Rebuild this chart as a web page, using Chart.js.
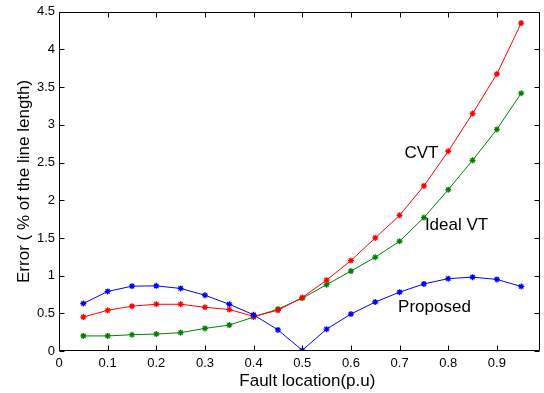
<!DOCTYPE html>
<html>
<head>
<meta charset="utf-8">
<script src="https://cdn.jsdelivr.net/npm/chart.js@4/dist/chart.umd.min.js"></script>
<style>
html,body{margin:0;padding:0;background:#fff;}
#c{display:block;}
</style>
</head>
<body>
<canvas id="c" width="544" height="393"></canvas>
<script>
const faultLocation = [0.05,0.10,0.15,0.20,0.25,0.30,0.35,0.40,0.45,0.50,0.55,0.60,0.65,0.70,0.75,0.80,0.85,0.90,0.95];
const cvtError      = [0.45,0.54,0.595,0.62,0.62,0.58,0.55,0.46,0.54,0.71,0.94,1.20,1.50,1.80,2.19,2.65,3.15,3.675,4.35];
const idealVtError  = [0.20,0.20,0.216,0.225,0.243,0.30,0.344,0.45,0.556,0.70,0.88,1.06,1.244,1.456,1.77,2.14,2.53,2.94,3.42];
const proposedError = [0.63,0.79,0.86,0.864,0.83,0.74,0.62,0.48,0.28,0.01,0.29,0.49,0.65,0.78,0.89,0.96,0.98,0.95,0.856];
const xTickValues = [0,0.1,0.2,0.3,0.4,0.5,0.6,0.7,0.8,0.9];
const yTickValues = [0,0.5,1,1.5,2,2.5,3,3.5,4,4.5];
const seriesNames = ['Proposed','CVT','Ideal VT'];
const labelTexts = ['CVT','Ideal VT','Proposed'];
const labelX = [0.71,0.752,0.697];
const labelY = [2.62,1.667,0.586];
const xTitle = 'Fault location(p.u)';
const yTitle = 'Error ( % of the line length)';

const FONT = "'Liberation Sans', Arial, sans-serif";

function pts(ys){ return faultLocation.map((x,i)=>({x:x,y:ys[i]})); }

const frame = {
  id:'frame',
  afterDraw(chart){
    const {ctx, chartArea:a, scales:{x,y}} = chart;
    ctx.save();
    ctx.strokeStyle='#000';
    ctx.lineWidth=1;
    const L=Math.round(a.left)+0.5, R=Math.round(a.right)-0.5, T=Math.round(a.top)+0.5, B=Math.round(a.bottom)-0.5;
    ctx.beginPath();
    ctx.rect(L,T,R-L,B-T);
    const tl=5;
    xTickValues.forEach(v=>{
      const px=Math.round(x.getPixelForValue(v))+0.5;
      ctx.moveTo(px,B); ctx.lineTo(px,B-tl);
      ctx.moveTo(px,T); ctx.lineTo(px,T+tl);
    });
    yTickValues.forEach(v=>{
      const py=Math.round(y.getPixelForValue(v))+0.5;
      ctx.moveTo(L,py); ctx.lineTo(L+tl,py);
      ctx.moveTo(R,py); ctx.lineTo(R-tl,py);
    });
    ctx.stroke();
    ctx.fillStyle='#000';
    ctx.font='17px '+FONT;
    ctx.textAlign='left';
    ctx.textBaseline='middle';
    labelTexts.forEach((t,i)=>{
      ctx.fillText(t, x.getPixelForValue(labelX[i]), y.getPixelForValue(labelY[i]));
    });
    // x-axis title, centred slightly right of the axis midpoint as in the reference
    ctx.textAlign='center';
    ctx.fillText(xTitle, (a.left+a.right)/2 + 8, a.bottom + 30);
    ctx.restore();
  }
};

new Chart(document.getElementById('c'), {
  type:'line',
  data:{
    datasets:[
      {label:seriesNames[0], data:pts(proposedError), borderColor:'#0000ff', backgroundColor:'#0000ff'},
      {label:seriesNames[1], data:pts(cvtError), borderColor:'#ff0000', backgroundColor:'#ff0000'},
      {label:seriesNames[2], data:pts(idealVtError), borderColor:'#008000', backgroundColor:'#008000'}
    ]
  },
  options:{
    responsive:false,
    animation:false,
    devicePixelRatio:1,
    layout:{padding:{top:11,right:2,left:0,bottom:0}},
    elements:{
      line:{borderWidth:1,tension:0,fill:false},
      point:{pointStyle:'star',radius:3,borderWidth:1.3,hoverRadius:3}
    },
    plugins:{legend:{display:false},tooltip:{enabled:false}},
    scales:{
      x:{
        type:'linear', min:0, max:0.988,
        afterBuildTicks(s){ s.ticks = xTickValues.map(v=>({value:v})); },
        afterFit(s){ s.height = 42; },
        grid:{display:false, drawTicks:false},
        border:{display:false},
        ticks:{color:'#000', padding:5, maxRotation:0, autoSkip:false, font:{family:FONT,size:13}, callback:v=>String(v)},
        title:{display:false}
      },
      y:{
        type:'linear', min:0, max:4.5,
        afterBuildTicks(s){ s.ticks = yTickValues.map(v=>({value:v})); },
        afterFit(s){ s.width = 59; },
        grid:{display:false, drawTicks:false},
        border:{display:false},
        ticks:{color:'#000', padding:4, autoSkip:false, font:{family:FONT,size:13}, callback:v=>String(v)},
        title:{display:true, text:yTitle, color:'#000', font:{family:FONT,size:17}, padding:{top:14,bottom:0}}
      }
    }
  },
  plugins:[frame]
});
</script>
</body>
</html>
